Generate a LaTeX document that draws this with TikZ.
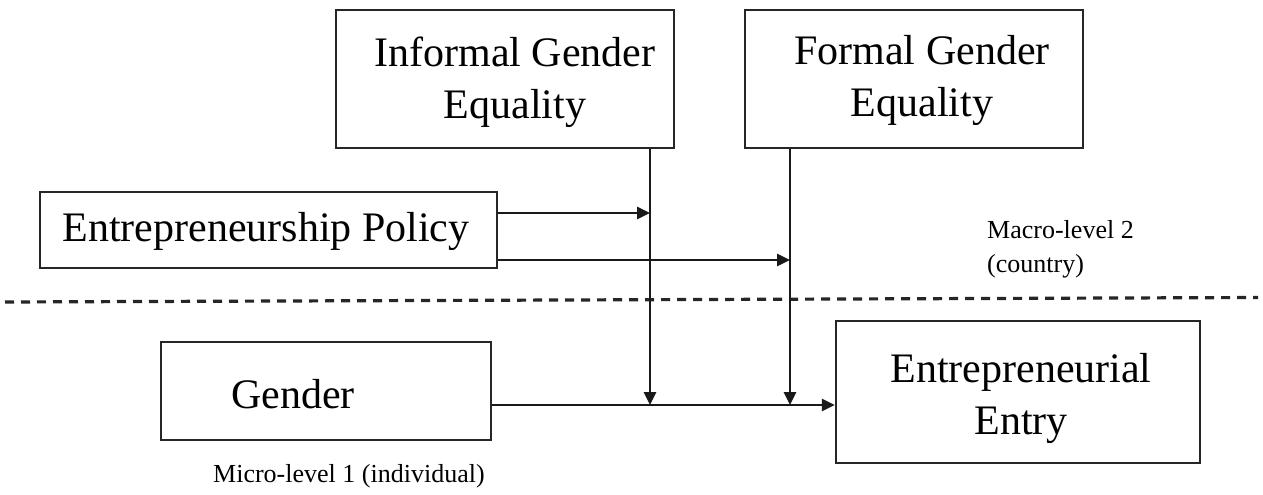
\documentclass[tikz,border=0pt]{standalone}
\usepackage{fontspec}
\setmainfont{Liberation Serif}
\usetikzlibrary{arrows.meta}
\begin{document}
\begin{tikzpicture}[x=1pt,y=-1pt,
  boxnode/.style={draw=black!85, line width=2.2pt, inner sep=0pt},
  bigtxt/.style={font=\fontsize{42}{52}\selectfont, align=center, inner sep=0pt},
  smalltxt/.style={font=\fontsize{26}{34}\selectfont, align=left, inner sep=0pt},
  conn/.style={line width=2.6pt, black!90},
  arr/.style={conn, -{Triangle[length=13pt,width=12pt]}}]
\useasboundingbox (0,0) rectangle (1263,495);
% boxes
\node[boxnode, minimum width=338pt, minimum height=138pt] (inf) at (505,79) {};
\node[bigtxt] (inft) at (515,82) {Informal Gender\\Equality};
\node[boxnode, minimum width=338pt, minimum height=138pt] (for) at (914,79) {};
\node[bigtxt] (fort) at (922,80) {Formal Gender\\Equality};
\node[boxnode, minimum width=457pt, minimum height=76pt] (pol) at (268.5,230) {};
\node[bigtxt] (polt) at (266,231) {Entrepreneurship Policy};
\node[boxnode, minimum width=330pt, minimum height=98pt] (gen) at (326,391) {};
\node[bigtxt] (gent) at (293,394) {Gender};
\node[boxnode, minimum width=364pt, minimum height=142pt] (ent) at (1018,392) {};
\node[bigtxt] (entt) at (1021,398) {Entrepreneurial\\Entry};
% labels
\node[smalltxt, anchor=base west] (macro) at (987,272) {Macro-level 2\\(country)};
\node[smalltxt, anchor=base west] (micro) at (213,482) {Micro-level 1 (individual)};
% dashed separator
\coordinate (dl) at (5,302);
\coordinate (dr) at (1258,297.5);
\draw[line width=3.2pt, dash pattern=on 9pt off 7pt, black!85] (dl) -- (dr);
% junction coordinates
\coordinate (j1) at (650,405);
\coordinate (j2) at (790,405);
\coordinate (p1) at (650,213);
\coordinate (p2) at (790,260);
% connectors
\draw[arr] (gen.east |- j1) -- (ent.west |- j1);
\draw[arr] (inf.south -| j1) -- (j1);
\draw[arr] (for.south -| j2) -- (j2);
\draw[arr] (pol.east |- p1) -- (p1);
\draw[arr] (pol.east |- p2) -- (p2);
\end{tikzpicture}
\end{document}
